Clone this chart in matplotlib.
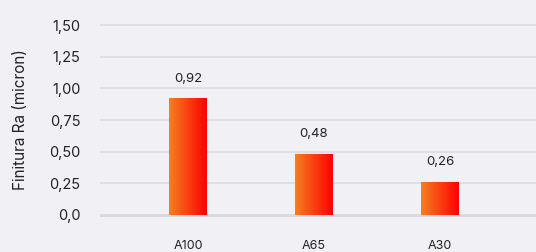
import numpy as np
import matplotlib
matplotlib.use("Agg")
import matplotlib.pyplot as plt
from matplotlib.colors import LinearSegmentedColormap

# dati
categorie = ["A100", "A65", "A30"]
valori = [0.92, 0.48, 0.26]
ticks_y = [0.0, 0.25, 0.50, 0.75, 1.00, 1.25, 1.50]
etichette_y = ["0,0", "0,25", "0,50", "0,75", "1,00", "1,25", "1,50"]

plt.rcParams['font.family'] = ['Inter', 'DejaVu Sans']

sfondo = '#f1f0f5'
fig = plt.figure(figsize=(5.36, 2.52), dpi=100, facecolor=sfondo)
ax = fig.add_axes([100/536, 0.1369, 1 - 100/536, 0.9107 - 0.1369])
ax.set_facecolor(sfondo)

x = np.arange(len(categorie))
barre = ax.bar(x, valori, width=0.30, color='none', zorder=3)

# gradiente arancio -> rosso dentro ogni barra
cmap = LinearSegmentedColormap.from_list('grad', ['#f58020', '#ff0000'])
grad = np.linspace(0, 1, 256).reshape(1, -1)
for b in barre:
    x0, y0 = b.get_x(), b.get_y()
    w, h = b.get_width(), b.get_height()
    im = ax.imshow(grad, cmap=cmap, aspect='auto', extent=[x0, x0 + w, y0, y0 + h], zorder=3)
    im.set_clip_path(b)

for xi, v in zip(x, valori):
    ax.text(xi, v + 0.11, f"{v:.2f}".replace('.', ','), ha='center', va='bottom',
            fontsize=9.5, color='#222222')

ax.set_xlim(-0.698, 2.762)
ax.set_ylim(-0.02, 1.52)
ax.set_yticks(ticks_y)
ax.set_yticklabels(etichette_y)
ax.set_xticks(x)
ax.set_xticklabels(categorie)
ax.tick_params(axis='y', length=0, pad=14, labelsize=10.5, labelcolor='#222222')
ax.tick_params(axis='x', length=0, pad=16, labelsize=9, labelcolor='#222222')
ax.set_ylabel('Finitura Ra (micron)', fontsize=11, color='#222222', labelpad=15)
ax.yaxis.grid(True, color='#dcdbe0', linewidth=1.2, zorder=0)
ax.axhline(0, color='#d2d1d6', linewidth=1.8, zorder=1)
for s in ax.spines.values():
    s.set_visible(False)

fig.savefig('out.png', dpi=100, facecolor=sfondo)
